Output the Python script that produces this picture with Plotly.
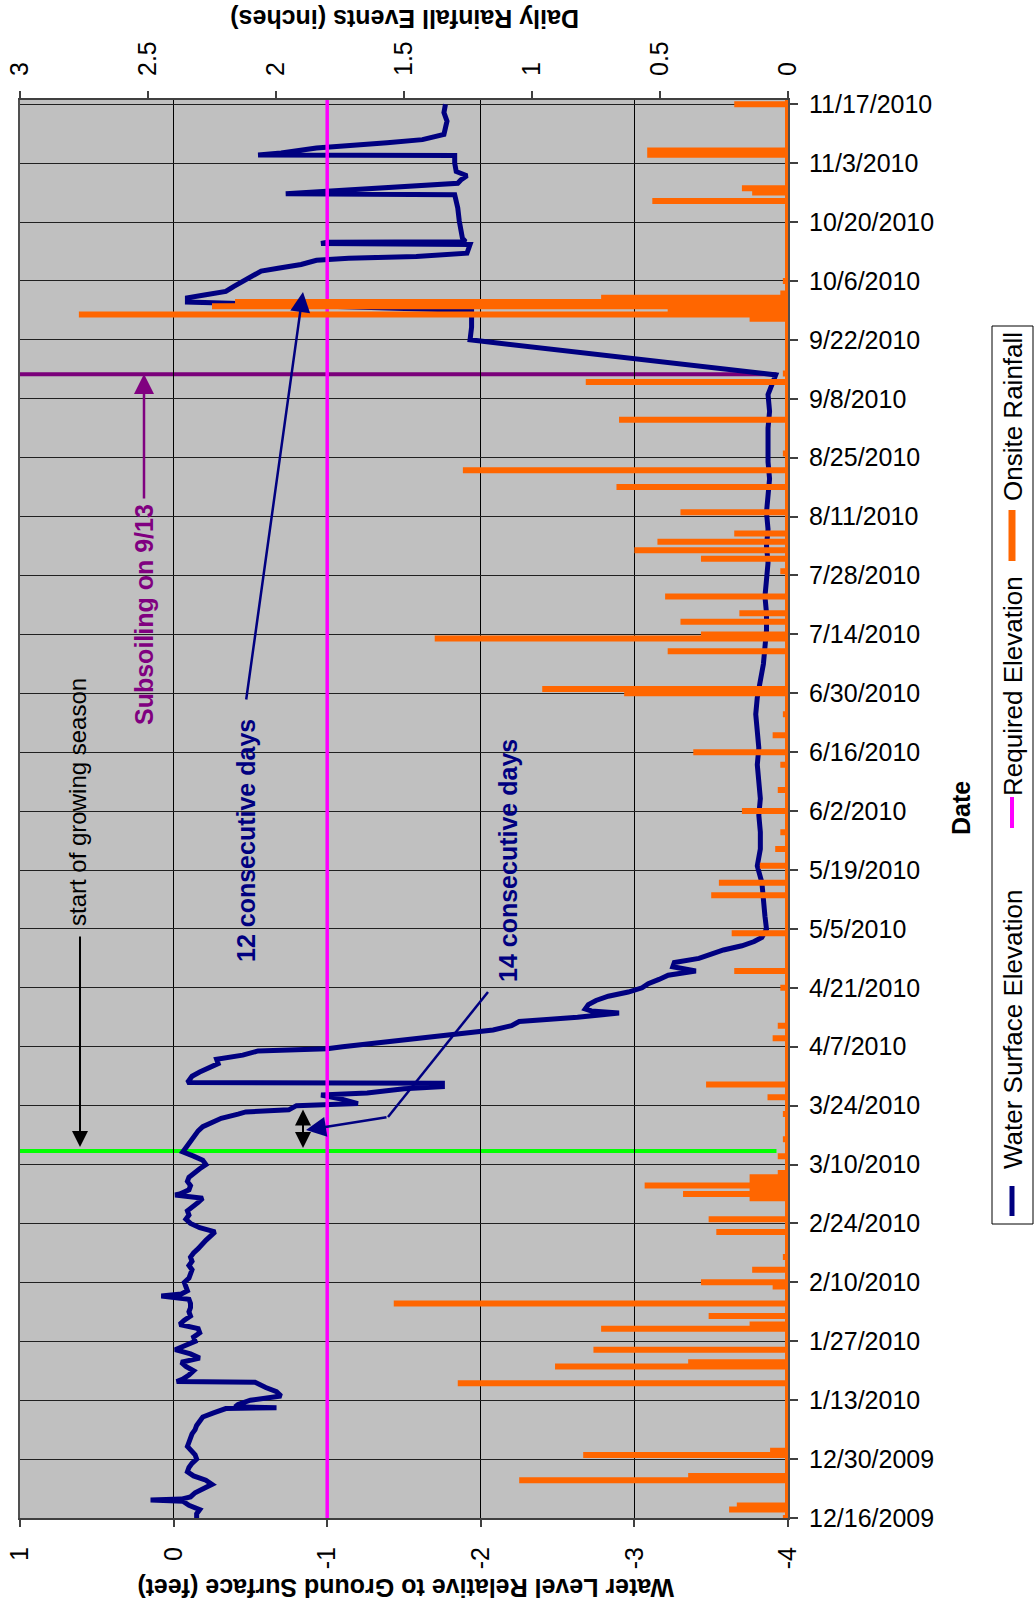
import plotly.graph_objects as go
import pandas as pd

# ---------------- data ----------------
wl_dates = [
    '2009-12-16', '2009-12-17', '2009-12-18', '2009-12-19', '2009-12-20 00:00', '2009-12-20 06:00',
    '2009-12-20 12:00', '2009-12-21', '2009-12-22', '2009-12-23', '2009-12-24', '2009-12-25',
    '2009-12-26', '2009-12-27', '2009-12-28', '2009-12-29', '2009-12-30', '2009-12-31',
    '2010-01-01', '2010-01-02', '2010-01-03', '2010-01-04', '2010-01-05', '2010-01-06',
    '2010-01-07', '2010-01-08', '2010-01-09', '2010-01-10', '2010-01-11 00:00', '2010-01-11 05:00',
    '2010-01-11 10:00', '2010-01-12', '2010-01-13', '2010-01-14', '2010-01-15', '2010-01-16',
    '2010-01-17 06:00', '2010-01-17 10:00', '2010-01-18', '2010-01-19', '2010-01-20', '2010-01-21',
    '2010-01-22', '2010-01-23', '2010-01-24', '2010-01-25', '2010-01-26', '2010-01-27',
    '2010-01-28', '2010-01-29', '2010-01-30', '2010-01-31', '2010-02-01', '2010-02-02',
    '2010-02-03', '2010-02-04', '2010-02-05', '2010-02-06', '2010-02-06 18:00', '2010-02-07 06:00',
    '2010-02-08', '2010-02-09', '2010-02-10', '2010-02-11', '2010-02-12', '2010-02-13',
    '2010-02-14', '2010-02-15', '2010-02-16', '2010-02-17', '2010-02-18', '2010-02-19',
    '2010-02-20', '2010-02-21', '2010-02-22', '2010-02-23', '2010-02-24', '2010-02-25',
    '2010-02-26', '2010-02-27', '2010-02-28', '2010-03-01', '2010-03-02', '2010-03-02 18:00',
    '2010-03-03', '2010-03-04', '2010-03-05', '2010-03-06', '2010-03-07', '2010-03-08',
    '2010-03-09', '2010-03-10', '2010-03-11', '2010-03-12', '2010-03-13', '2010-03-14',
    '2010-03-15', '2010-03-16', '2010-03-17', '2010-03-18', '2010-03-19', '2010-03-20',
    '2010-03-21', '2010-03-22', '2010-03-22 12:00', '2010-03-23', '2010-03-24', '2010-03-24 12:00',
    '2010-03-25 12:00', '2010-03-26 12:00', '2010-03-27', '2010-03-28', '2010-03-28 12:00', '2010-03-29 08:00',
    '2010-03-29 12:00', '2010-03-30', '2010-03-31', '2010-04-01', '2010-04-02', '2010-04-03',
    '2010-04-04', '2010-04-05', '2010-04-06', '2010-04-06 12:00', '2010-04-07', '2010-04-08',
    '2010-04-09', '2010-04-10', '2010-04-11', '2010-04-12', '2010-04-13', '2010-04-14',
    '2010-04-15', '2010-04-15 12:00', '2010-04-16', '2010-04-17', '2010-04-18', '2010-04-19',
    '2010-04-20', '2010-04-21', '2010-04-22', '2010-04-23', '2010-04-24', '2010-04-25',
    '2010-04-25 12:00', '2010-04-26', '2010-04-27', '2010-04-28', '2010-04-29', '2010-04-30',
    '2010-05-01', '2010-05-02', '2010-05-03', '2010-05-05', '2010-05-08', '2010-05-12',
    '2010-05-16', '2010-05-20', '2010-05-24', '2010-05-28', '2010-06-01', '2010-06-05',
    '2010-06-09', '2010-06-13', '2010-06-17', '2010-06-21', '2010-06-25', '2010-06-29',
    '2010-07-03', '2010-07-07', '2010-07-11', '2010-07-15', '2010-07-19', '2010-07-23',
    '2010-07-27', '2010-07-31', '2010-08-04', '2010-08-08', '2010-08-12', '2010-08-16',
    '2010-08-20', '2010-08-24', '2010-08-28', '2010-09-01', '2010-09-05', '2010-09-09',
    '2010-09-13 16:00', '2010-09-22', '2010-09-25', '2010-09-29', '2010-10-01', '2010-10-02',
    '2010-10-02 16:00', '2010-10-03 12:00', '2010-10-04 16:00', '2010-10-05 20:00', '2010-10-07', '2010-10-08 08:00',
    '2010-10-09', '2010-10-09 22:00', '2010-10-10 22:00', '2010-10-11 10:00', '2010-10-11 20:00', '2010-10-12 14:00',
    '2010-10-14 16:00', '2010-10-14 22:00', '2010-10-15 05:00', '2010-10-15 08:00', '2010-10-16 05:00', '2010-10-17 20:00',
    '2010-10-20 05:00', '2010-10-23 08:00', '2010-10-26 12:00', '2010-10-26 17:00', '2010-10-27 05:00', '2010-10-27 20:00',
    '2010-10-28 12:00', '2010-10-29 05:00', '2010-10-30', '2010-10-31', '2010-11-01', '2010-11-03',
    '2010-11-04 20:00', '2010-11-04 23:00', '2010-11-05 10:00', '2010-11-06 14:00', '2010-11-07 20:00', '2010-11-08 14:00',
    '2010-11-09 20:00', '2010-11-11', '2010-11-13', '2010-11-15', '2010-11-17'
]
wl_vals = [
    -0.15, -0.15, -0.17, -0.10, -0.06, 0.15,
    -0.05, -0.11, -0.14, -0.20, -0.25, -0.21,
    -0.13, -0.09, -0.10, -0.12, -0.15, -0.14,
    -0.11, -0.09, -0.10, -0.11, -0.12, -0.14,
    -0.15, -0.17, -0.19, -0.26, -0.34, -0.67,
    -0.40, -0.42, -0.50, -0.70, -0.67, -0.60,
    -0.53, -0.02, -0.06, -0.10, -0.13, -0.08,
    -0.05, -0.17, -0.11, -0.01, -0.08, -0.14,
    -0.13, -0.17, -0.16, -0.04, -0.07, -0.11,
    -0.10, -0.11, -0.11, -0.10, 0.08, -0.05,
    -0.09, -0.08, -0.07, -0.10, -0.11, -0.12,
    -0.10, -0.12, -0.11, -0.13, -0.16, -0.18,
    -0.21, -0.24, -0.27, -0.17, -0.11, -0.08,
    -0.10, -0.09, -0.13, -0.16, -0.19, -0.01,
    -0.04, -0.10, -0.11, -0.09, -0.10, -0.13,
    -0.17, -0.21, -0.19, -0.13, -0.06, -0.08,
    -0.10, -0.12, -0.14, -0.16, -0.19, -0.25,
    -0.31, -0.42, -0.47, -0.75, -0.80, -1.20,
    -1.10, -0.96, -1.26, -1.50, -1.75, -1.75,
    -0.09, -0.10, -0.12, -0.17, -0.24, -0.29,
    -0.28, -0.45, -0.55, -1.00, -1.10, -1.35,
    -1.60, -1.90, -2.08, -2.20, -2.25, -2.63,
    -2.90, -2.72, -2.68, -2.70, -2.75, -2.83,
    -2.96, -3.05, -3.09, -3.16, -3.22, -3.40,
    -3.30, -3.25, -3.26, -3.42, -3.50, -3.58,
    -3.70, -3.78, -3.83, -3.86, -3.85, -3.84,
    -3.83, -3.80, -3.82, -3.82, -3.81, -3.82,
    -3.81, -3.80, -3.81, -3.80, -3.79, -3.80,
    -3.82, -3.84, -3.85, -3.86, -3.86, -3.85,
    -3.86, -3.87, -3.86, -3.87, -3.86, -3.87,
    -3.88, -3.87, -3.87, -3.87, -3.88, -3.87,
    -3.92, -1.93, -1.94, -1.94, -0.09, -0.09,
    -0.20, -0.34, -0.39, -0.45, -0.50, -0.57,
    -0.68, -0.83, -0.93, -1.14, -1.58, -1.91,
    -1.93, -0.96, -1.00, -1.90, -1.88, -1.87,
    -1.86, -1.85, -1.83, -0.73, -0.95, -1.20,
    -1.49, -1.85, -1.87, -1.91, -1.84, -1.83,
    -1.83, -0.55, -0.70, -0.93, -1.39, -1.62,
    -1.76, -1.77, -1.78, -1.76, -1.77
]

rain_dates = [
    '2009-12-16', '2009-12-18', '2009-12-19', '2009-12-25', '2009-12-26', '2009-12-31',
    '2010-01-01', '2010-01-08', '2010-01-17', '2010-01-21', '2010-01-22', '2010-01-25',
    '2010-01-30', '2010-01-31', '2010-02-02', '2010-02-05', '2010-02-09', '2010-02-10',
    '2010-02-13', '2010-02-16', '2010-02-22', '2010-02-25', '2010-03-02', '2010-03-03',
    '2010-03-04', '2010-03-05', '2010-03-06', '2010-03-07', '2010-03-08', '2010-03-12',
    '2010-03-16', '2010-03-22', '2010-03-26', '2010-03-29', '2010-04-09', '2010-04-12',
    '2010-04-21', '2010-04-25', '2010-05-04', '2010-05-13', '2010-05-16', '2010-05-20',
    '2010-05-24', '2010-05-28', '2010-06-02', '2010-06-07', '2010-06-13', '2010-06-16',
    '2010-06-20', '2010-06-25', '2010-06-30', '2010-07-01', '2010-07-10', '2010-07-13',
    '2010-07-14', '2010-07-17', '2010-07-19', '2010-07-23', '2010-07-29', '2010-08-01',
    '2010-08-03', '2010-08-05', '2010-08-07', '2010-08-12', '2010-08-18', '2010-08-22',
    '2010-08-26', '2010-09-03', '2010-09-12', '2010-09-14', '2010-09-27', '2010-09-28',
    '2010-09-29', '2010-09-30', '2010-10-01', '2010-10-02', '2010-10-03', '2010-10-06',
    '2010-10-25', '2010-10-27', '2010-10-28', '2010-11-05', '2010-11-06', '2010-11-17'
]
rain_vals = [
    0.02, 0.23, 0.20, 1.05, 0.39, 0.80,
    0.07, 0.01, 1.29, 0.91, 0.39, 0.76,
    0.73, 0.15, 0.31, 1.54, 0.06, 0.34,
    0.14, 0.02, 0.28, 0.31, 0.15, 0.41,
    0.15, 0.56, 0.15, 0.15, 0.04, 0.04,
    0.02, 0.02, 0.08, 0.32, 0.06, 0.04,
    0.03, 0.21, 0.22, 0.30, 0.27, 0.11,
    0.05, 0.03, 0.18, 0.04, 0.03, 0.37,
    0.06, 0.02, 0.64, 0.96, 0.47, 1.38,
    0.34, 0.42, 0.19, 0.48, 0.03, 0.34,
    0.60, 0.51, 0.21, 0.42, 0.67, 1.27,
    0.02, 0.66, 0.79, 0.02, 0.15, 2.77,
    0.47, 2.25, 2.16, 0.73, 0.03, 0.02,
    0.53, 0.14, 0.18, 0.55, 0.55, 0.21
]

wl_ticks = [1, 0, -1, -2, -3, -4]
wl_tick_labels = ['1', '0', '-1', '-2', '-3', '-4']
required_elev = -1.0
date_start = '2009-12-16'
date_end = '2010-11-18'
growing_season_start = '2010-03-13 06:00'
subsoiling_date = '2010-09-13 20:00'

# ---------------- geometry helpers ----------------
W, H = 1035, 1608
ML, MR, MT, MB = 20, 247, 100, 90
PW = W - ML - MR
PH = H - MT - MB
FONT = 'Arial, Liberation Sans, sans-serif'


def px(X):
    return (X - ML) / PW


def py(Y):
    return (H - MB - Y) / PH


# rain drawn as spikes out from the zero line and back on each rain day
r_y, r_x = [pd.Timestamp(date_start)], [0.0]
for d, v in sorted(zip(pd.to_datetime(rain_dates, format='mixed'), rain_vals)):
    r_y += [d, d, d]
    r_x += [0.0, v, 0.0]
r_y.append(pd.Timestamp(date_end))
r_x.append(0.0)

NAVY = '#000080'
MAGENTA = '#FF00FF'
ORANGE = '#FF6600'
GREEN = '#00FF00'
PURPLE = '#7A007A'

fig = go.Figure()
fig.add_trace(go.Scatter(x=wl_vals, y=pd.to_datetime(wl_dates, format='mixed'), mode='lines',
                         line=dict(color=NAVY, width=5), name='Water Surface Elevation',
                         xaxis='x', yaxis='y'))
fig.add_trace(go.Scatter(x=[required_elev, required_elev], y=[date_start, date_end], mode='lines',
                         line=dict(color=MAGENTA, width=3.5), name='Required Elevation',
                         xaxis='x', yaxis='y'))
fig.add_trace(go.Scatter(x=r_x, y=r_y, mode='lines', line=dict(color=ORANGE, width=6),
                         name='Onsite Rainfall', xaxis='x2', yaxis='y'))

axis_font = dict(family=FONT, size=25, color='black')

fig.update_layout(
    width=W, height=H,
    margin=dict(l=ML, r=MR, t=MT, b=MB, pad=0, autoexpand=False),
    paper_bgcolor='white', plot_bgcolor='#C0C0C0',
    showlegend=False,
    font=dict(family=FONT, color='black'),
    xaxis=dict(range=[1, -4], tickmode='array', tickvals=wl_ticks, ticktext=wl_tick_labels,
               tickangle=-90, side='bottom', anchor='y', automargin=False,
               showgrid=True, gridcolor='black', gridwidth=1, zeroline=False,
               ticks='outside', ticklen=7, tickcolor='#404040', tickwidth=1.5,
               showline=True, linecolor='#404040', linewidth=2,
               tickfont=axis_font, ticklabelstandoff=10),
    xaxis2=dict(range=[3, 0], tick0=0, dtick=0.5, tickangle=-90, side='top', overlaying='x',
                anchor='y', showgrid=False, zeroline=False, automargin=False,
                ticks='outside', ticklen=7, tickcolor='#404040', tickwidth=1.5,
                showline=True, linecolor='#404040', linewidth=2,
                tickfont=axis_font, ticklabelstandoff=10),
    yaxis=dict(type='date', range=[date_start, date_end], side='right', automargin=False,
               tick0=date_start, dtick=14 * 86400000, tickformat='%-m/%-d/%Y',
               showgrid=True, gridcolor='#202020', gridwidth=1, zeroline=False,
               ticks='outside', ticklen=8, tickcolor='#404040', tickwidth=1.5,
               showline=True, mirror=True, linecolor='#505050', linewidth=2,
               tickfont=axis_font, ticklabelstandoff=6),
)

shapes = []
shapes.append(dict(type='line', xref='paper', yref='y', x0=0, x1=0.985,
                   y0=growing_season_start, y1=growing_season_start,
                   line=dict(color=GREEN, width=4), layer='between'))
shapes.append(dict(type='line', xref='paper', yref='y', x0=0, x1=0.985,
                   y0=subsoiling_date, y1=subsoiling_date,
                   line=dict(color=PURPLE, width=4), layer='between'))
shapes.append(dict(type='line', xref='paper', yref='paper', x0=px(488), y0=py(992), x1=px(388), y1=py(1117),
                   line=dict(color=NAVY, width=2.5)))
# legend box and swatches
shapes.append(dict(type='rect', xref='paper', yref='paper', x0=px(992), x1=px(1033), y0=py(1224), y1=py(326),
                   line=dict(color='black', width=1), fillcolor='white'))
shapes.append(dict(type='line', xref='paper', yref='paper', x0=px(1012), x1=px(1012), y0=py(1186), y1=py(1216),
                   line=dict(color=NAVY, width=5)))
shapes.append(dict(type='line', xref='paper', yref='paper', x0=px(1012), x1=px(1012), y0=py(797), y1=py(828),
                   line=dict(color=MAGENTA, width=4)))
shapes.append(dict(type='line', xref='paper', yref='paper', x0=px(1012), x1=px(1012), y0=py(510), y1=py(561),
                   line=dict(color=ORANGE, width=7)))
fig.update_layout(shapes=shapes)


def text(X, Y, s, size=25, color='black', bold=False, angle=-90):
    return dict(x=px(X), y=py(Y), xref='paper', yref='paper', showarrow=False,
                text=('<b>%s</b>' % s) if bold else s, textangle=angle,
                xanchor='center', yanchor='middle',
                font=dict(family=FONT, size=size, color=color))


def arrow(hx, hy, tx, ty, color, width=2.5, size=1.6, side='end'):
    return dict(x=px(hx), y=py(hy), xref='paper', yref='paper', text='', showarrow=True,
                ax=tx - hx, ay=ty - hy, axref='pixel', ayref='pixel',
                arrowcolor=color, arrowwidth=width, arrowhead=2, arrowsize=size,
                arrowside=side, standoff=0, startstandoff=0)


annotations = [
    text(405, 19, 'Daily Rainfall Events (inches)', bold=True, angle=180),
    text(406, 1588, 'Water Level Relative to Ground Surface (feet)', bold=True, angle=180),
    text(961, 808, 'Date', bold=True, angle=-90),
    text(77, 802, 'start of growing season', size=24),
    arrow(80, 1147, 80, 935, 'black', width=2),
    text(144, 615, 'Subsoiling on 9/13', color='#800080', bold=True),
    arrow(144, 374, 144, 500, '#800080', width=2.5),
    text(246, 841, '12 consecutive days', color=NAVY, bold=True),
    arrow(303, 292, 246, 701, NAVY, width=2.5),
    text(508, 861, '14 consecutive days', color=NAVY, bold=True),
    arrow(306, 1130, 388, 1117, NAVY, width=2.5),
    arrow(303, 1148, 303, 1108, 'black', width=2, side='end+start'),
    text(1013, 1030, 'Water Surface Elevation', size=26),
    text(1013, 686, 'Required Elevation', size=26),
    text(1013, 417, 'Onsite Rainfall', size=26),
]
fig.update_layout(annotations=annotations)

fig.write_html('out.html', config={'displayModeBar': False},
               post_script="document.body.style.margin='0';document.body.style.overflow='hidden';")
